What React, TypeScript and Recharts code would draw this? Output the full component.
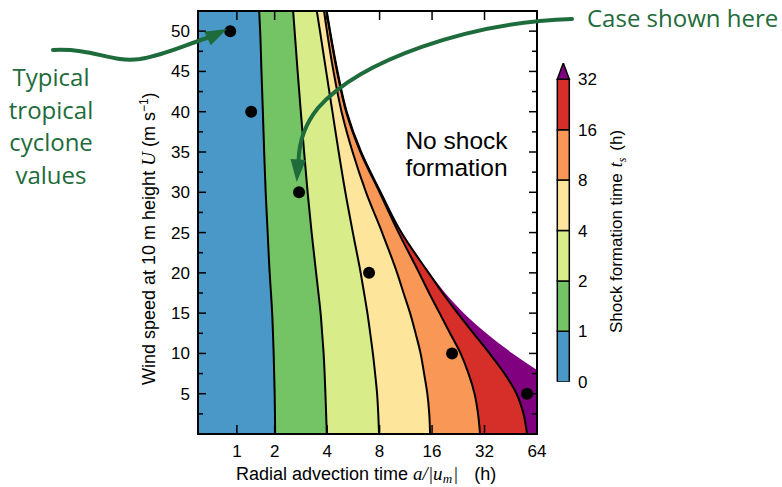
import React from 'react';
import { ComposedChart, Area, Line, XAxis, YAxis, ReferenceArea, BarChart, Bar } from 'recharts';

// ---------- data ----------
// wind speed levels (m/s) at which the contours were read
const windSpeed = [0, 2.5, 5, 7.5, 10, 12.5, 15, 17.5, 20, 25, 30, 35, 40, 45, 50, 52.5];
// radial advection time (h) of each shock-formation-time contour at those wind speeds
const contour1h = [2.013, 2.008, 2.0, 1.982, 1.964, 1.939, 1.911, 1.869, 1.825, 1.759, 1.696, 1.65, 1.611, 1.57, 1.533, 1.505];
const contour2h = [3.983, 3.948, 3.911, 3.87, 3.819, 3.745, 3.67, 3.566, 3.459, 3.26, 3.092, 2.952, 2.826, 2.709, 2.604, 2.553];
const contour4h = [7.945, 7.86, 7.74, 7.54, 7.32, 7.07, 6.81, 6.52, 6.23, 5.62, 5.09, 4.66, 4.29, 3.95, 3.64, 3.49];
const contour8h = [15.58, 15.42, 15.03, 14.4, 13.75, 12.87, 11.97, 10.98, 10.08, 8.27, 6.69, 5.6, 4.84, 4.35, 3.99, 3.84];
const contour16h = [30.15, 29.37, 28.05, 25.9, 23.31, 20.29, 17.67, 15.38, 13.48, 10.28, 8.0, 6.21, 5.14, 4.56, 4.14, 3.96];
const contour32h = [56.1, 53.55, 48.84, 41.67, 34.18, 27.67, 22.41, 18.38, 15.28, 10.67, 8.11, 6.27, 5.18, 4.59, 4.16, 3.98];
// limit beyond which no shock forms
const shockLimitH = [284, 167.8, 105.7, 68.8, 46.31, 32.77, 24.35, 19.0, 15.48, 10.77, 8.16, 6.31, 5.21, 4.61, 4.18, 4.0];

// typical tropical cyclone cases
const caseWind = [50, 40, 30, 20, 10, 5];
const caseAdvectionH = [0.885, 1.3, 2.76, 6.96, 20.84, 56.1];

// ticks
const xTickHours = [1, 2, 4, 8, 16, 32, 64];
const yTickValues = [2.5, 5, 7.5, 10, 12.5, 15, 17.5, 20, 22.5, 25, 27.5, 30, 32.5, 35, 37.5, 40, 42.5, 45, 47.5, 50];
const colorbarLabels = ['0', '1', '2', '4', '8', '16', '32'];
const colorbarSegments = [1, 1, 1, 1, 1, 1, 0.323];

// ---------- styles ----------
const SANS = '"Liberation Sans", Arial, Helvetica, sans-serif';
const SERIF = '"Liberation Serif", "DejaVu Serif", serif';
const ANNOT = '"Open Sans", "Noto Sans", sans-serif';
const GREEN = '#1e6b3b';
const COLORS = ['#4a98c8', '#74c365', '#d8ec8a', '#fde69c', '#f99856', '#d62f2a', '#800080'];

const PLOT_LEFT = 198;
const PLOT_RIGHT = 537;
const PLOT_TOP = 11;
const PLOT_BOTTOM = 434;

// axis position transform (axis is compressed below 2 h)
const toAxis = (h: number) => {
  const L = Math.log2(h);
  return L >= 1 ? L : 1 + 0.72 * (L - 1);
};
const fromAxis = (u: number) => (u >= 1 ? Math.pow(2, u) : Math.pow(2, 1 + (u - 1) / 0.72));
const X_DOMAIN: [number, number] = [toAxis(0.49), toAxis(64)];
const Y_DOMAIN: [number, number] = [0, 52.5];

const rows = windSpeed.map((U, i) => ({
  U,
  c1: toAxis(contour1h[i]),
  c2: toAxis(contour2h[i]),
  c4: toAxis(contour4h[i]),
  c8: toAxis(contour8h[i]),
  c16: toAxis(contour16h[i]),
  c32: toAxis(contour32h[i]),
  lim: toAxis(shockLimitH[i]),
}));
const caseRows = caseWind.map((U, i) => ({ U, x: toAxis(caseAdvectionH[i]) }));
const xTicks = xTickHours.map(toAxis);

const cbRow: any = { name: 'cb' };
colorbarSegments.forEach((v, i) => (cbRow['s' + i] = v));
const cbRows = [cbRow];

// ---------- tick renderers ----------
const XTick = (props: any) => {
  const { x, payload } = props;
  const label = String(Math.round(fromAxis(payload.value)));
  return (
    <g>
      <line x1={x} x2={x} y1={PLOT_BOTTOM} y2={PLOT_BOTTOM - 9} stroke="#000" strokeWidth={1.5} />
      <line x1={x} x2={x} y1={PLOT_TOP} y2={PLOT_TOP + 9} stroke="#000" strokeWidth={1.5} />
      <text x={x} y={457} textAnchor="middle" fontSize={17} fill="#000" fontFamily={SANS}>
        {label}
      </text>
    </g>
  );
};

const YTick = (props: any) => {
  const { y, payload } = props;
  const v = payload.value;
  const major = v % 5 === 0;
  const len = major ? 8 : 5;
  return (
    <g>
      <line x1={PLOT_LEFT} x2={PLOT_LEFT + len} y1={y} y2={y} stroke="#000" strokeWidth={1.5} />
      <line x1={PLOT_RIGHT} x2={PLOT_RIGHT - len} y1={y} y2={y} stroke="#000" strokeWidth={1.5} />
      {major && (
        <text x={190} y={y + 6} textAnchor="end" fontSize={17} fill="#000" fontFamily={SANS}>
          {v}
        </text>
      )}
    </g>
  );
};

const Triangle = (props: any) => {
  const { x, y, width, height, fill } = props;
  return (
    <path
      d={`M${x},${y + height} L${x + width / 2},${y} L${x + width},${y + height} Z`}
      fill={fill}
      stroke="#000"
      strokeWidth={1.5}
    />
  );
};

const areaKeys = ['lim', 'c32', 'c16', 'c8', 'c4', 'c2', 'c1'];
const areaColors = [COLORS[6], COLORS[5], COLORS[4], COLORS[3], COLORS[2], COLORS[1], COLORS[0]];
const lineKeys = ['c1', 'c2', 'c4', 'c8', 'c16', 'c32'];

export default function App() {
  return (
    <div
      style={{
        position: 'absolute',
        left: 0,
        top: 0,
        width: 782,
        height: 487,
        background: '#fff',
        fontFamily: SANS,
        overflow: 'hidden',
      }}
    >
      <div style={{ position: 'absolute', left: 0, top: 0 }}>
        <ComposedChart
          width={560}
          height={487}
          data={rows}
          layout="vertical"
          margin={{ top: PLOT_TOP, right: 560 - PLOT_RIGHT, bottom: 487 - PLOT_BOTTOM - 30, left: PLOT_LEFT - 60 }}
        >
          <XAxis
            type="number"
            domain={X_DOMAIN}
            allowDataOverflow
            ticks={xTicks}
            interval={0}
            height={30}
            axisLine={false}
            tickLine={false}
            tick={<XTick />}
          />
          <YAxis
            type="number"
            dataKey="U"
            domain={Y_DOMAIN}
            allowDataOverflow
            reversed
            ticks={yTickValues}
            interval={0}
            width={60}
            axisLine={false}
            tickLine={false}
            tick={<YTick />}
          />
          {areaKeys.map((k, i) => (
            <Area
              key={k}
              dataKey={k}
              type="monotone"
              baseValue="dataMin"
              fill={areaColors[i]}
              fillOpacity={1}
              stroke="none"
              isAnimationActive={false}
            />
          ))}
          {lineKeys.map((k) => (
            <Line
              key={'l' + k}
              dataKey={k}
              type="monotone"
              stroke="#000"
              strokeWidth={2}
              dot={false}
              isAnimationActive={false}
            />
          ))}
          <Line
            data={caseRows}
            dataKey="x"
            stroke="none"
            dot={{ r: 6, fill: '#000', stroke: 'none' }}
            isAnimationActive={false}
          />
          <ReferenceArea
            x1={X_DOMAIN[0]}
            x2={X_DOMAIN[1]}
            y1={Y_DOMAIN[0]}
            y2={Y_DOMAIN[1]}
            fill="none"
            fillOpacity={0}
            stroke="#000"
            strokeWidth={2}
          />
        </ComposedChart>
      </div>

      <div style={{ position: 'absolute', left: 540, top: 0 }}>
        <BarChart
          width={90}
          height={487}
          data={cbRows}
          margin={{ top: 63, right: 11, bottom: 105.3, left: 17.3 }}
          barCategoryGap={0}
        >
          <XAxis dataKey="name" hide />
          <YAxis
            orientation="right"
            type="number"
            domain={[0, 6.323]}
            allowDataOverflow
            ticks={[0, 1, 2, 3, 4, 5, 6]}
            interval={0}
            tickFormatter={(v: number) => colorbarLabels[v]}
            axisLine={false}
            tickLine={false}
            tickSize={0}
            tickMargin={9}
            width={50}
            tick={{ fontSize: 17, fill: '#000', fontFamily: SANS }}
          />
          {colorbarSegments.map((_, i) =>
            i < 6 ? (
              <Bar
                key={i}
                dataKey={'s' + i}
                stackId="cb"
                fill={COLORS[i]}
                stroke="#000"
                strokeWidth={1.5}
                isAnimationActive={false}
              />
            ) : (
              <Bar
                key={i}
                dataKey={'s' + i}
                stackId="cb"
                fill={COLORS[i]}
                shape={<Triangle />}
                isAnimationActive={false}
              />
            )
          )}
        </BarChart>
      </div>

      <svg
        width={782}
        height={487}
        style={{ position: 'absolute', left: 0, top: 0, pointerEvents: 'none' }}
      >
        {/* axis titles */}
        <text transform="translate(155,385) rotate(-90)" fontSize={18} fill="#000" fontFamily={SANS}>
          Wind speed at 10 m height{' '}
          <tspan fontFamily={SERIF} fontStyle="italic" fontSize={19}>U</tspan>
          <tspan dx={5}>(m s</tspan>
          <tspan dy={-7} fontSize={12}>−1</tspan>
          <tspan dy={7}>)</tspan>
        </text>
        <text x={236} y={480} fontSize={18} fill="#000" fontFamily={SANS}>
          Radial advection time{' '}
          <tspan fontFamily={SERIF} fontStyle="italic" fontSize={19}>a/|u</tspan>
          <tspan fontFamily={SERIF} fontStyle="italic" fontSize={13} dy={3}>m</tspan>
          <tspan fontFamily={SERIF} fontStyle="italic" fontSize={19} dy={-3} dx={1}>|</tspan>
          <tspan dx={16}>(h)</tspan>
        </text>
        <text transform="translate(622,333) rotate(-90)" fontSize={17} fill="#000" fontFamily={SANS}>
          Shock formation time
          <tspan dx={6} fontFamily={SERIF} fontStyle="italic" fontSize={18}>t</tspan>
          <tspan fontFamily={SERIF} fontStyle="italic" fontSize={12} dy={4}>s</tspan>
          <tspan dy={-4} dx={7}>(h)</tspan>
        </text>

        {/* region label */}
        <g fontFamily={SANS} fontSize={24.5} fill="#000" textAnchor="middle">
          <text x={456.5} y={149}>No shock</text>
          <text x={456.5} y={176}>formation</text>
        </g>

        {/* annotations */}
        <g fontFamily={ANNOT} fontSize={24} fill={GREEN} textAnchor="middle">
          <text x={51} y={86}>Typical</text>
          <text x={51} y={118.5}>tropical</text>
          <text x={51} y={151}>cyclone</text>
          <text x={51} y={184}>values</text>
        </g>
        <text x={587} y={27} fontFamily={ANNOT} fontSize={24} fill={GREEN}>
          Case shown here
        </text>
        <path
          d="M 53 50 C 95 48, 110 63, 140 59 C 165 55, 185 45, 207 38"
          fill="none"
          stroke={GREEN}
          strokeWidth={4}
          strokeLinecap="round"
        />
        <polygon points="227,29 210.8,45.2 204.2,31.8" fill={GREEN} />
        <path
          d="M 572 19 C 470 22, 360 60, 318 108 C 305 124, 299 142, 298.5 161"
          fill="none"
          stroke={GREEN}
          strokeWidth={4}
          strokeLinecap="round"
        />
        <polygon points="296.7,182 290.5,159 306,160" fill={GREEN} />
      </svg>
    </div>
  );
}
